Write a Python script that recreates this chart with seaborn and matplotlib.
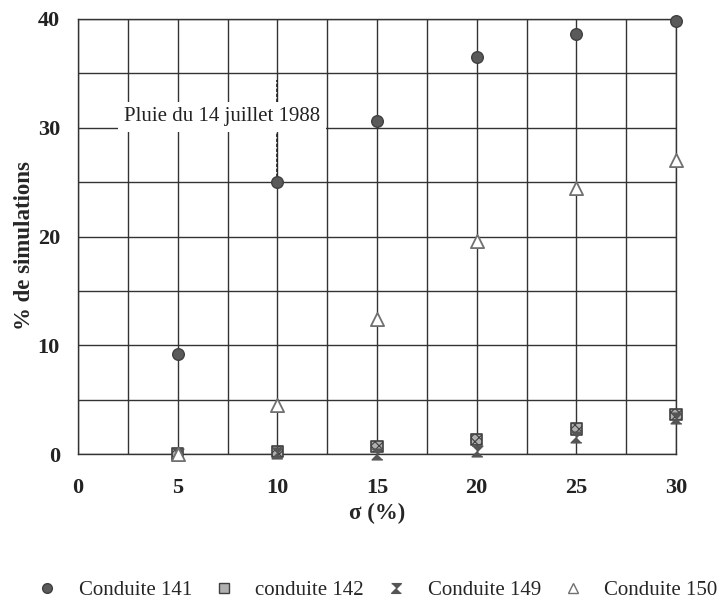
import matplotlib
matplotlib.use("Agg")
import matplotlib.pyplot as plt
import seaborn as sns
import pandas as pd
from matplotlib.lines import Line2D

sigma = [5, 10, 15, 20, 25, 30]
conduite_141 = [9.2, 25.0, 30.6, 36.5, 38.6, 39.8]
conduite_142 = [0.0, 0.2, 0.7, 1.3, 2.3, 3.6]
conduite_149 = [0.0, 0.1, 0.0, 0.3, 1.6, 3.3]
conduite_150 = [0.0, 4.5, 12.4, 19.6, 24.5, 27.0]
labels = ["Conduite 141", "conduite 142", "Conduite 149", "Conduite 150"]

sns.set_style("white")
plt.rcParams["font.family"] = ["Liberation Serif", "DejaVu Serif"]
plt.rcParams["hatch.linewidth"] = 0.8

hourglass = [(-1, 1), (1, 1), (-1, -1), (1, -1)]
styles = {
    "Conduite 141": dict(marker="o", color="#5a5a5a", edgecolor="#404040", s=70, linewidth=1),
    "conduite 142": dict(marker="s", color="#b0b0b0", edgecolor="#404040", s=65, linewidth=1.2),
    "Conduite 149": dict(marker=hourglass, color="#555555", edgecolor="#555555", s=60, linewidth=1),
    "Conduite 150": dict(marker="^", color="white", edgecolor="#707070", s=90, linewidth=1.3),
}
series = [conduite_141, conduite_142, conduite_149, conduite_150]

fig = plt.figure(figsize=(7.2, 6.01), dpi=100)
ax = fig.add_axes([78 / 720, 1 - 454 / 601, (676 - 78) / 720, (454 - 19) / 601])

for name, vals in zip(labels, series):
    df = pd.DataFrame({"sigma": sigma, "pct": vals})
    st = styles[name]
    sns.scatterplot(data=df, x="sigma", y="pct", ax=ax, marker=st["marker"],
                    color=st["color"], edgecolor=st["edgecolor"], s=st["s"],
                    linewidth=st["linewidth"], zorder=3, clip_on=False)
    if name == "conduite 142":
        ax.collections[-1].set_hatch("xxxx")

ax.set_xlim(0, 30)
ax.set_ylim(0, 40)
ax.set_xticks([0, 5, 10, 15, 20, 25, 30])
ax.set_xticks([2.5, 7.5, 12.5, 17.5, 22.5, 27.5], minor=True)
ax.set_yticks([0, 10, 20, 30, 40])
ax.set_yticks([5, 15, 25, 35], minor=True)
ax.grid(True, which="both", color="#333333", linewidth=1.0)
for sp in ax.spines.values():
    sp.set_color("#333333")
    sp.set_linewidth(1.0)
ax.tick_params(axis="both", which="both", direction="out", length=4, width=1,
               color="#333333", labelsize=16)
ax.tick_params(axis="x", pad=13)
ax.tick_params(axis="y", pad=9)
for lab in ax.get_xticklabels() + ax.get_yticklabels():
    lab.set_fontweight("bold")
    lab.set_color("#222222")

ax.set_xlabel("σ (%)", fontsize=16.5, fontweight="bold", va="center")
ax.xaxis.set_label_coords(0.5, (454 - 513) / 435)
ax.set_ylabel("% de simulations", fontsize=16.5, fontweight="bold", va="center")
ax.yaxis.set_label_coords((25 - 78) / 598, (454 - 246) / 435)

# annotation with dashed leader line
ax.plot([10, 10], [25, 34.4], linestyle=(0, (2, 1)), color="#222222", linewidth=1.2, zorder=2)
ax.text(7.22, 31.0, "Pluie du 14 juillet 1988", fontsize=15, ha="center", va="center",
        color="#222222", zorder=4,
        bbox=dict(facecolor="white", edgecolor="none", pad=4))

handles = []
for name in labels:
    st = styles[name]
    handles.append(Line2D([0], [0], linestyle="none", marker=st["marker"],
                          markerfacecolor=st["color"], markeredgecolor=st["edgecolor"],
                          markersize=7, markeredgewidth=1))
fig.legend(handles, labels, loc="center left", bbox_to_anchor=(37 / 720, 1 - 590 / 601), ncol=4,
           frameon=False, fontsize=15, handlelength=1.0, handletextpad=1.0,
           columnspacing=1.05, borderpad=0, borderaxespad=0)

fig.savefig("out.png", dpi=100)
